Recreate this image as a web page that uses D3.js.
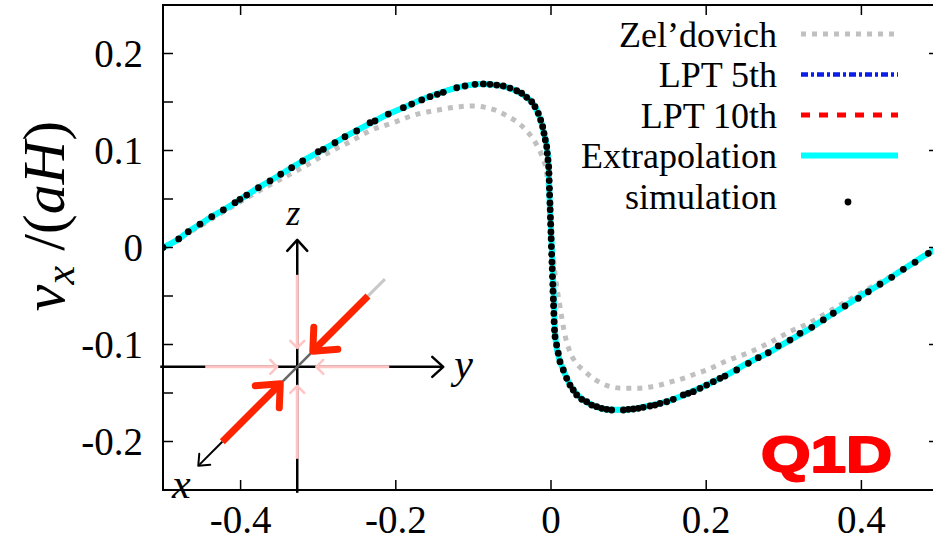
<!DOCTYPE html>
<html>
<head>
<meta charset="utf-8">
<script src="https://cdn.jsdelivr.net/npm/d3@7"></script>
<style>
  html, body { margin: 0; padding: 0; background: #fff; }
  svg { display: block; }
</style>
</head>
<body>
<div id="chart"></div>
<script>
// Velocity profile v_x/(aH) against x

const xTicks = [-0.4, -0.2, 0, 0.2, 0.4];
const xTickLabels = ["-0.4", "-0.2", "0", "0.2", "0.4"];
const yTicks = [0.2, 0.1, 0, -0.1, -0.2];
const yTickLabels = ["0.2", "0.1", "0", "-0.1", "-0.2"];
const yMinorTicks = [0.2, 0.15, 0.1, 0.05, 0, -0.05, -0.1, -0.15, -0.2];

const legendLabels = ["Zel\u2019dovich", "LPT 5th", "LPT 10th", "Extrapolation", "simulation"];

// Zel'dovich approximation (grey dotted)
const zeldovich = [
  [-0.5, 0], [-0.46, 0.0185], [-0.418, 0.0387], [-0.375, 0.059], [-0.319, 0.083],
  [-0.2806, 0.1005], [-0.259, 0.109], [-0.2332, 0.1204], [-0.2032, 0.1287],
  [-0.1731, 0.1373], [-0.1452, 0.1418], [-0.1173, 0.1452], [-0.1, 0.1459],
  [-0.085, 0.1445], [-0.07, 0.141], [-0.055, 0.1349], [-0.0442, 0.1297],
  [-0.03, 0.119], [-0.02, 0.108], [-0.012, 0.095], [-0.0055, 0.0765],
  [-0.0013, 0.042], [0.0009, 0.011], [0.0052, -0.0266], [0.0116, -0.061],
  [0.0175, -0.0885], [0.0235, -0.1057], [0.031, -0.1177], [0.0417, -0.1263],
  [0.0524, -0.1338], [0.0653, -0.14], [0.0803, -0.1441], [0.0954, -0.1452],
  [0.1104, -0.1452], [0.1254, -0.1441], [0.1405, -0.1418], [0.1555, -0.1383],
  [0.1705, -0.1349], [0.1856, -0.1304], [0.2006, -0.1263], [0.2263, -0.1168],
  [0.2543, -0.1085], [0.28, -0.0988], [0.308, -0.0868], [0.336, -0.0765],
  [0.3617, -0.0644], [0.3875, -0.0524], [0.4153, -0.0397], [0.441, -0.0284],
  [0.4668, -0.0163], [0.4884, -0.006], [0.5, 0]
];

// LPT 5th / 10th / extrapolation all sit on the same curve at this scale
const lptCurve = [
  [-0.5, 0], [-0.4798, 0.0088], [-0.4674, 0.0163], [-0.4523, 0.024], [-0.4372, 0.0318],
  [-0.4222, 0.0387], [-0.4072, 0.0462], [-0.3921, 0.054], [-0.3771, 0.0617],
  [-0.3621, 0.0686], [-0.3483, 0.0755], [-0.3342, 0.0823], [-0.32, 0.0892],
  [-0.2934, 0.1012], [-0.2784, 0.108], [-0.2655, 0.1142], [-0.2504, 0.1206],
  [-0.2311, 0.1287], [-0.2097, 0.1376], [-0.1903, 0.1441], [-0.1666, 0.1525],
  [-0.143, 0.1595], [-0.1173, 0.1656], [-0.0915, 0.1686], [-0.07, 0.1675],
  [-0.0486, 0.1628], [-0.0313, 0.1548], [-0.0206, 0.1452], [-0.0133, 0.1314],
  [-0.009, 0.1177], [-0.0055, 0.1039], [-0.003, 0.0833], [-0.0018, 0.05],
  [-0.0007, 0.03], [0.0004, 0.01], [0.0014, -0.01], [0.0025, -0.03],
  [0.0035, -0.05], [0.0044, -0.072], [0.006, -0.0954], [0.0094, -0.1109],
  [0.0159, -0.1263], [0.0245, -0.1418], [0.0374, -0.1545], [0.0545, -0.1628],
  [0.076, -0.1672], [0.0975, -0.1672], [0.1233, -0.1636], [0.149, -0.159],
  [0.1748, -0.1509], [0.2006, -0.1418], [0.2263, -0.1314], [0.2522, -0.1196],
  [0.28, -0.1085], [0.308, -0.0954], [0.336, -0.0823], [0.3638, -0.0678],
  [0.394, -0.0524], [0.424, -0.0379], [0.454, -0.0225], [0.4862, -0.006], [0.5, 0]
];

// N-body simulation particles (black dots)
const simulation = [
  [-0.5, 0], [-0.4798, 0.0088], [-0.4674, 0.0163], [-0.4523, 0.024], [-0.4372, 0.0318],
  [-0.4222, 0.0387], [-0.4072, 0.0462], [-0.4008, 0.0497], [-0.3921, 0.054],
  [-0.3771, 0.0617], [-0.3621, 0.0686], [-0.3483, 0.0755], [-0.3342, 0.0823],
  [-0.32, 0.0892], [-0.2999, 0.0988], [-0.2934, 0.1012], [-0.2784, 0.108],
  [-0.2655, 0.1142], [-0.2504, 0.1201], [-0.2332, 0.1287], [-0.2268, 0.1304],
  [-0.2097, 0.1376], [-0.1903, 0.1441], [-0.1795, 0.1479], [-0.1666, 0.1521],
  [-0.1559, 0.1555], [-0.1465, 0.1579], [-0.1388, 0.16], [-0.1215, 0.1647],
  [-0.1108, 0.1665], [-0.0979, 0.1682], [-0.0872, 0.1686], [-0.0786, 0.1682],
  [-0.07, 0.1675], [-0.0615, 0.1665], [-0.0528, 0.1644], [-0.0442, 0.1616],
  [-0.0378, 0.159], [-0.0313, 0.1548], [-0.0249, 0.1503], [-0.0206, 0.1452],
  [-0.0164, 0.1383], [-0.0133, 0.1314], [-0.0107, 0.1245], [-0.009, 0.1177],
  [-0.0073, 0.1108], [-0.0055, 0.1039], [-0.0048, 0.0971], [-0.0039, 0.0902],
  [-0.003, 0.0833], [-0.0026, 0.0765], [-0.0023, 0.069], [-0.002, 0.061],
  [-0.0017, 0.054], [-0.0013, 0.046], [-0.001, 0.039], [-0.0007, 0.031],
  [-0.0004, 0.024], [-0.0001, 0.016], [0.0002, 0.009], [0.0005, 0.001],
  [0.0009, -0.007], [0.0012, -0.015], [0.0016, -0.022], [0.0019, -0.03],
  [0.0023, -0.038], [0.0026, -0.045], [0.003, -0.053], [0.0033, -0.06],
  [0.0037, -0.068], [0.004, -0.0765], [0.0045, -0.085], [0.0052, -0.092],
  [0.0073, -0.1005], [0.0094, -0.109], [0.0116, -0.1177], [0.0159, -0.1263],
  [0.0202, -0.1349], [0.0245, -0.1418], [0.0287, -0.1469], [0.0331, -0.152],
  [0.0396, -0.1565], [0.046, -0.159], [0.0524, -0.1624], [0.0589, -0.1641],
  [0.0653, -0.1658], [0.0718, -0.1668], [0.0782, -0.1675], [0.0932, -0.1675],
  [0.0996, -0.1668], [0.1061, -0.1665], [0.1125, -0.1658], [0.1189, -0.1648],
  [0.1276, -0.1634], [0.134, -0.1624], [0.1405, -0.1607], [0.1491, -0.159],
  [0.1576, -0.1565], [0.1705, -0.152], [0.1769, -0.1503], [0.1834, -0.1486],
  [0.192, -0.1452], [0.2006, -0.1418], [0.2092, -0.1383], [0.2178, -0.1349],
  [0.2242, -0.1325], [0.2393, -0.1263], [0.2543, -0.1194], [0.2671, -0.1136],
  [0.28, -0.1085], [0.2929, -0.1015], [0.308, -0.0954], [0.3209, -0.0885],
  [0.336, -0.0823], [0.3509, -0.0747], [0.3638, -0.0678], [0.3789, -0.0603],
  [0.396, -0.0524], [0.4089, -0.0456], [0.424, -0.0379], [0.439, -0.0307],
  [0.454, -0.0225], [0.4691, -0.0153], [0.4862, -0.006]
];

const width = 933;
const height = 540;
const plot = { left: 163, right: 939, top: 5, bottom: 490 };

const serif = "'Liberation Serif', 'Times New Roman', serif";

const svg = d3.select("#chart")
  .append("svg")
  .attr("width", width)
  .attr("height", height);

const x = d3.scaleLinear().domain([-0.5, 0.5]).range([plot.left, plot.right]);
const y = d3.scaleLinear().domain([-0.25, 0.25]).range([plot.bottom, plot.top]);

svg.append("defs").append("clipPath").attr("id", "clip")
  .append("rect")
  .attr("x", plot.left).attr("y", plot.top)
  .attr("width", plot.right - plot.left).attr("height", plot.bottom - plot.top);

// Styles for each series (used by both the plot and the legend)
const styles = {
  zel:   { stroke: "#c0c0c0", width: 5, dash: "5,6" },
  lpt5:  { stroke: "#0a1ee8", width: 4.5, dash: "7,3,3,3" },
  lpt10: { stroke: "#ff0000", width: 5, dash: "9,9" },
  extra: { stroke: "#00ffff", width: 6, dash: null }
};
const styleKeys = ["zel", "lpt5", "lpt10", "extra"];

const line = d3.line()
  .x(d => x(d[0]))
  .y(d => y(d[1]))
  .curve(d3.curveMonotoneX);

const curves = svg.append("g").attr("clip-path", "url(#clip)");

const seriesData = { zel: zeldovich, lpt5: lptCurve, lpt10: lptCurve, extra: lptCurve };

styleKeys.forEach(k => {
  const s = styles[k];
  curves.append("path")
    .datum(seriesData[k])
    .attr("d", line)
    .attr("fill", "none")
    .attr("stroke", s.stroke)
    .attr("stroke-width", s.width)
    .attr("stroke-dasharray", s.dash)
    .attr("stroke-linejoin", "round");
});

curves.selectAll("circle.sim")
  .data(simulation)
  .enter()
  .append("circle")
  .attr("class", "sim")
  .attr("cx", d => x(d[0]))
  .attr("cy", d => y(d[1]))
  .attr("r", 3.4)
  .attr("fill", "#000");

// ---- inset sketch of the collapsing axes ----
const inset = svg.append("g");
const cx = x(-0.327), cy = y(-0.123);
const diag = t => [cx + t / Math.SQRT2, cy - t / Math.SQRT2];

function seg(p1, p2, color, w, cap) {
  inset.append("line")
    .attr("x1", p1[0]).attr("y1", p1[1])
    .attr("x2", p2[0]).attr("y2", p2[1])
    .attr("stroke", color).attr("stroke-width", w)
    .attr("stroke-linecap", cap || "butt");
}
function head(tip, arms, color, w) {
  inset.append("path")
    .attr("d", `M${tip[0] + arms[0][0]},${tip[1] + arms[0][1]}L${tip[0]},${tip[1]}L${tip[0] + arms[1][0]},${tip[1] + arms[1][1]}`)
    .attr("fill", "none").attr("stroke", color).attr("stroke-width", w)
    .attr("stroke-linecap", "round").attr("stroke-linejoin", "round");
}

// black y and z axes
seg([cx - 137, cy], [cx + 145, cy], "#000", 2.5);
head([cx + 146, cy], [[-11, -10], [-11, 10]], "#000", 2.5);
seg([cx, cy + 126], [cx, cy - 126], "#000", 2.5);
head([cx, cy - 127], [[-10, 11], [10, 11]], "#000", 2.5);

// faint pink compression arrows along y and z
const pink = "#ffc4c4";
seg([cx - 92, cy], [cx - 20, cy], pink, 3);
head([cx - 20, cy], [[-7, -7], [-7, 7]], pink, 2.5);
seg([cx + 92, cy], [cx + 19, cy], pink, 3);
head([cx + 19, cy], [[7, -7], [7, 7]], pink, 2.5);
seg([cx, cy - 92], [cx, cy - 19], pink, 3);
head([cx, cy - 19], [[-7, -7], [7, -7]], pink, 2.5);
seg([cx, cy + 92], [cx, cy + 19], pink, 3);
head([cx, cy + 19], [[-7, 7], [7, 7]], pink, 2.5);

// diagonal x axis
seg(diag(96), diag(124), "#c8c8c8", 3);
seg(diag(-30), diag(30), "#666", 2.5);
seg(diag(-106), diag(-139), "#000", 2);
head(diag(-140), [[1, -12], [12, -1]], "#000", 2);

// strong red compression along x
const red = "#ff2400";
seg(diag(100), diag(24), red, 7);
head(diag(22), [[1, -24], [25, -2]], red, 7);
seg(diag(-106), diag(-26), red, 7);
head(diag(-24), [[-25, 2], [-1, 24]], red, 7);

const italicLabel = (txt, px, py, size, anchor) => inset.append("text")
  .attr("x", px).attr("y", py)
  .attr("text-anchor", anchor)
  .attr("font-family", serif).attr("font-style", "italic")
  .attr("font-size", size)
  .text(txt);
italicLabel("z", cx - 4, cy - 142, 36, "middle");
italicLabel("y", cx + 157, cy + 11, 42, "start");
italicLabel("x", cx - 116, cy + 131, 42, "middle");

// ---- frame and ticks ----
const axes = svg.append("g").attr("stroke", "#000").attr("stroke-width", 1.5);
axes.append("rect")
  .attr("x", plot.left).attr("y", plot.top)
  .attr("width", plot.right - plot.left).attr("height", plot.bottom - plot.top)
  .attr("fill", "none").attr("stroke-width", 2);

const tickLen = 10;
xTicks.forEach(t => {
  axes.append("line").attr("x1", x(t)).attr("x2", x(t)).attr("y1", plot.bottom).attr("y2", plot.bottom - tickLen);
  axes.append("line").attr("x1", x(t)).attr("x2", x(t)).attr("y1", plot.top).attr("y2", plot.top + tickLen);
});
yMinorTicks.forEach(t => {
  axes.append("line").attr("x1", plot.left).attr("x2", plot.left + tickLen).attr("y1", y(t)).attr("y2", y(t));
});
yTicks.forEach(t => {
  axes.append("line").attr("x1", plot.right).attr("x2", plot.right - tickLen).attr("y1", y(t)).attr("y2", y(t));
});

const labels = svg.append("g").attr("font-family", serif).attr("font-size", 39).attr("fill", "#000");
xTicks.forEach((t, i) => {
  labels.append("text").attr("x", x(t)).attr("y", 533).attr("text-anchor", "middle").text(xTickLabels[i]);
});
yTicks.forEach((t, i) => {
  labels.append("text").attr("x", 143).attr("y", y(t) + 13).attr("text-anchor", "end").text(yTickLabels[i]);
});

// y-axis title  v_x /(aH)
const title = svg.append("text")
  .attr("transform", "translate(64,216) rotate(-90)")
  .attr("text-anchor", "middle")
  .attr("font-family", serif)
  .attr("font-size", 60);
title.append("tspan").attr("font-style", "italic").text("v");
title.append("tspan").attr("font-style", "italic").attr("font-size", 42).attr("dy", 10).text("x");
title.append("tspan").attr("dy", -10).text(" /(");
title.append("tspan").attr("font-style", "italic").text("aH");
title.append("tspan").text(")");

// ---- legend ----
const legend = svg.append("g");
legendLabels.forEach((name, i) => {
  const rowY = 34 + i * 40.5;
  legend.append("text")
    .attr("x", 777).attr("y", rowY + 12.5)
    .attr("text-anchor", "end")
    .attr("font-family", serif).attr("font-size", 36)
    .text(name);
  if (i < styleKeys.length) {
    const s = styles[styleKeys[i]];
    legend.append("line")
      .attr("x1", 801).attr("x2", 898).attr("y1", rowY).attr("y2", rowY)
      .attr("stroke", s.stroke).attr("stroke-width", s.width)
      .attr("stroke-dasharray", s.dash);
  } else {
    legend.append("circle").attr("cx", 848).attr("cy", rowY + 6).attr("r", 3.4).attr("fill", "#000");
  }
});

// ---- Q1D tag ----
svg.append("text")
  .attr("x", 761).attr("y", 472)
  .attr("font-family", "'Liberation Sans', Arial, sans-serif")
  .attr("font-weight", "bold")
  .attr("font-size", 50)
  .attr("textLength", 131)
  .attr("lengthAdjust", "spacingAndGlyphs")
  .attr("fill", "#ff0000")
  .attr("stroke", "#ff0000")
  .attr("stroke-width", 2)
  .attr("stroke-linejoin", "round")
  .text("Q1D");
</script>
</body>
</html>
